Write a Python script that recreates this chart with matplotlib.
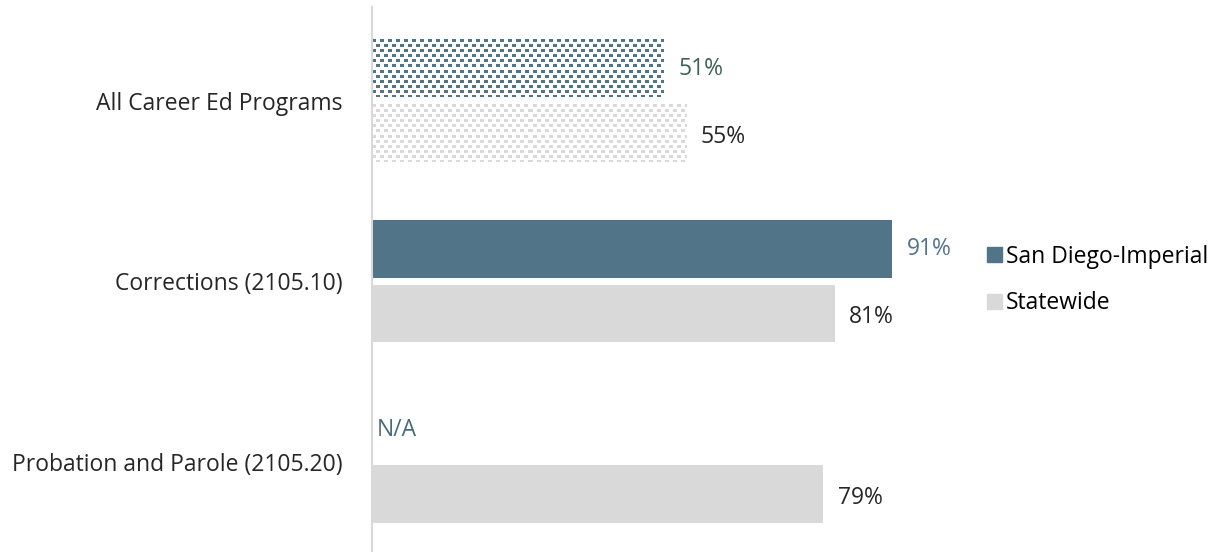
import numpy as np
import matplotlib
matplotlib.use("Agg")
from matplotlib import pyplot as plt
from matplotlib.patches import Patch
from matplotlib.colors import to_rgb

plt.rcParams['font.family'] = ['Open Sans', 'DejaVu Sans']

# data
categories = ["All Career Ed Programs", "Corrections (2105.10)",
              "Probation and Parole (2105.20)"]
san_diego = [51, 91, None]
statewide = [55, 81, 79]

SD_COLOR = '#527489'
SW_COLOR = '#d9d9d9'
FS = 16.5

fig = plt.figure(figsize=(12.17, 5.52), dpi=100)
ax_l, ax_w = 372 / 1217, 571 / 1217
ax_h = 545 / 552
ax = fig.add_axes([ax_l, 0.0, ax_w, ax_h])

XMAX = 100
YLIM = (2.5, -0.52)
px_x = 571 / XMAX
px_y = 545 / abs(YLIM[0] - YLIM[1])

y = np.arange(len(categories))
h = 0.318
off = 0.178


def confetti_bar(yc, value, color):
    """Fill a bar with a small staggered square pattern (like the Excel fill)."""
    w = max(int(round(value * px_x)), 1)
    hh = max(int(round(h * px_y)), 1)
    img = np.ones((hh, w, 3))
    rgb = to_rgb(color)
    rows, cols = np.mgrid[0:hh, 0:w]
    ry = rows % 10
    cx = cols % 8
    mask = ((ry < 3) & (cx < 4)) | ((ry >= 5) & (ry < 8) & (cx >= 4))
    img[mask] = rgb
    ax.imshow(img, extent=[0, value, yc + h / 2, yc - h / 2],
              aspect='auto', interpolation='nearest', zorder=2)


for i, (sd, sw) in enumerate(zip(san_diego, statewide)):
    hatched = (i == 0)
    # San Diego-Imperial bar
    if sd is None:
        ax.text(0.9, y[i] - off, "N/A", va='center', ha='left',
                fontsize=FS, color='#4a6b7a')
    else:
        if hatched:
            confetti_bar(y[i] - off, sd, SD_COLOR)
            lab_col = '#3d6152'
        else:
            ax.barh(y[i] - off, sd, height=h, color=SD_COLOR)
            lab_col = SD_COLOR
        ax.text(sd + 2.6, y[i] - off, f"{sd}%", va='center', ha='left',
                fontsize=FS, color=lab_col)
    # Statewide bar
    if hatched:
        confetti_bar(y[i] + off, sw, SW_COLOR)
    else:
        ax.barh(y[i] + off, sw, height=h, color=SW_COLOR)
    ax.text(sw + 2.6, y[i] + off + 0.02, f"{sw}%", va='center', ha='left',
            fontsize=FS, color='#262626')

ax.set_xlim(0, XMAX)
ax.set_ylim(*YLIM)
ax.set_yticks(y)
ax.set_yticklabels(categories, fontsize=FS, color='#262626')
ax.tick_params(axis='y', length=0, pad=21)
ax.set_xticks([])
for side in ['top', 'right', 'bottom']:
    ax.spines[side].set_visible(False)
ax.spines['left'].set_color('#d9d9d9')
ax.spines['left'].set_linewidth(1.5)

handles = [Patch(color=SD_COLOR, label='San Diego-Imperial'),
           Patch(color=SW_COLOR, label='Statewide')]
fig.legend(handles=handles, loc='center left',
           bbox_to_anchor=(966 / 1217, 1 - 280 / 552), frameon=False,
           fontsize=FS, handlelength=0.65, handleheight=0.65,
           handletextpad=0.2, labelspacing=1.0)

fig.savefig('out.png', dpi=100)
